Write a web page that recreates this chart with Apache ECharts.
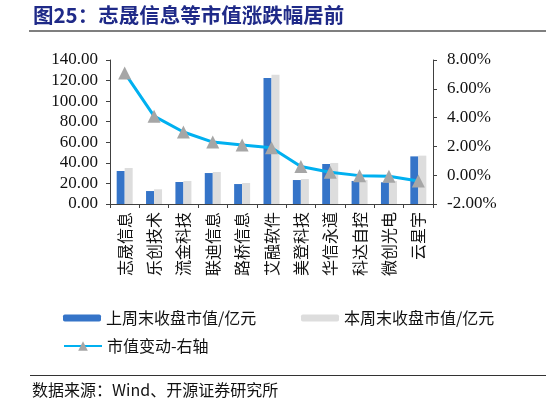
<!DOCTYPE html>
<html><head><meta charset="utf-8">
<script src="https://cdn.jsdelivr.net/npm/echarts@6/dist/echarts.min.js"></script>
<style>html,body{margin:0;padding:0;background:#fff;}#c{width:546px;height:405px;}</style>
</head><body><div id="c"></div>
<script>
const categories = ['志晟信息','乐创技术','流金科技','联迪信息','路桥信息','艾融软件','美登科技','华信永道','科达自控','微创光电','云星宇'];
const lastWeekValue = [32.1, 12.6, 21.4, 30.1, 19.4, 122.5, 23.3, 38.9, 22.4, 21.1, 46.3];
const thisWeekValue = [35.0, 14.3, 22.4, 31.1, 20.4, 125.7, 24.3, 39.9, 23.3, 22.4, 47.0];
const changePct = [7.1, 4.1, 3.0, 2.3, 2.1, 1.9, 0.6, 0.2, -0.03, -0.08, -0.4];
const seriesNames = ['上周末收盘市值/亿元','本周末收盘市值/亿元','市值变动-右轴'];
const titleText = '图25：志晟信息等市值涨跌幅居前';
const sourceText = '数据来源：Wind、开源证券研究所';

const serif = 'Liberation Serif';
const cjk = 'Noto Sans CJK SC';
const chart = echarts.init(document.getElementById('c'), null, {renderer:'canvas'});
const axisLine = {show:true, lineStyle:{color:'#404040', width:1}};
const legendText = {fontFamily:cjk, fontSize:16, color:'#111'};
chart.setOption({
  animation:false,
  backgroundColor:'#fff',
  grid:{left:110, right:113, top:60, bottom:201},
  legend:[
    {data:[seriesNames[0]], left:58, top:305, itemWidth:38, itemHeight:7, itemGap:6, textStyle:legendText},
    {data:[seriesNames[1]], left:296, top:305, itemWidth:38, itemHeight:7, itemGap:6, textStyle:legendText},
    {data:[seriesNames[2]], left:58, top:333, itemWidth:38, itemHeight:12, itemGap:6, textStyle:legendText}
  ],
  xAxis:{type:'category', data:categories, axisLine:axisLine,
    axisTick:{show:true, length:4, lineStyle:{color:'#404040'}},
    axisLabel:{rotate:90, interval:0, margin:8, fontFamily:cjk, fontSize:16, color:'#111'}},
  yAxis:[
    {type:'value', min:0, max:140, interval:20, axisLine:axisLine,
     axisTick:{show:true, length:4, lineStyle:{color:'#404040'}}, splitLine:{show:false},
     axisLabel:{formatter:v=>v.toFixed(2), fontFamily:serif, fontSize:17, color:'#111', margin:12}},
    {type:'value', min:-2, max:8, interval:2, axisLine:axisLine,
     axisTick:{show:true, length:4, lineStyle:{color:'#404040'}}, splitLine:{show:false},
     axisLabel:{formatter:v=>v.toFixed(2)+'%', fontFamily:serif, fontSize:17, color:'#111', margin:14}}
  ],
  series:[
    {name:seriesNames[0], type:'bar', data:lastWeekValue, barWidth:8, barGap:'0%', itemStyle:{color:'#3574C8'}},
    {name:seriesNames[1], type:'bar', data:thisWeekValue, barWidth:8, barGap:'0%', itemStyle:{color:'#DDDDDD'}},
    {name:seriesNames[2], type:'line', yAxisIndex:1, data:changePct, symbol:'triangle', symbolSize:13,
     lineStyle:{color:'#00B0F0', width:3}, itemStyle:{color:'#A6A6A6'}, z:5}
  ],
  graphic:[
    {type:'text', left:33, top:5, style:{text:titleText, fontFamily:cjk, fontSize:20.5, fontWeight:'bold', fill:'#1F2A88'}},
    {type:'line', shape:{x1:29, y1:31, x2:546, y2:31}, style:{stroke:'#000', lineWidth:1.2}},
    {type:'line', shape:{x1:30, y1:375.5, x2:546, y2:375.5}, style:{stroke:'#333', lineWidth:1}},
    {type:'text', left:32, top:382, style:{text:sourceText, fontFamily:cjk, fontSize:16, fill:'#111'}}
  ]
});
</script></body></html>
